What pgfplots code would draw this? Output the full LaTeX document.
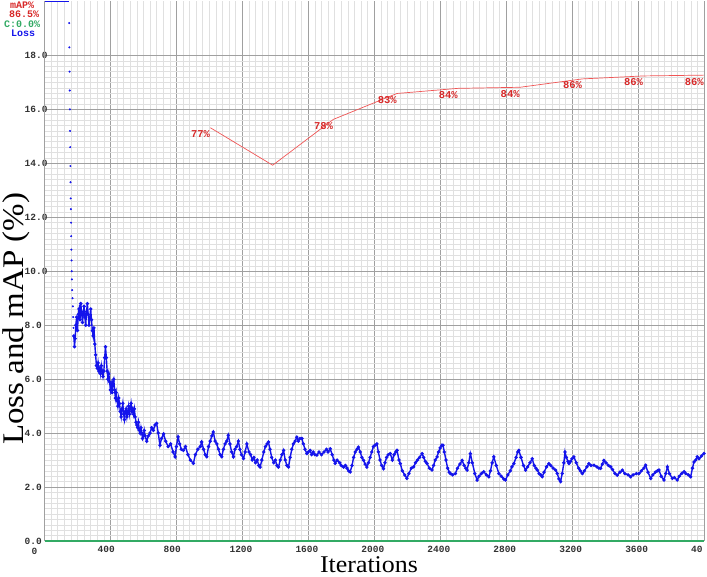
\documentclass[border=0pt]{standalone}
\usepackage{pgfplots}
\pgfplotsset{compat=1.18}
\usepackage{pgfplotstable}
\usepackage{fontspec}
\setmainfont{Liberation Serif}
\newfontfamily\monof{Liberation Mono}
\definecolor{lossblue}{RGB}{20,20,235}
\definecolor{mapred}{RGB}{240,85,85}
\definecolor{labred}{RGB}{215,40,40}
\definecolor{cgreen}{RGB}{50,170,100}
\definecolor{majgrid}{RGB}{160,160,160}
\definecolor{mingrid}{RGB}{224,224,224}
\definecolor{ticktext}{RGB}{50,50,50}

\pgfplotstableread{
x y
150 19.2
151 18.3
152 17.4
153 16.7
154 16.0
155 15.2
156 14.6
157 13.9
158 13.3
159 12.7
160 12.3
161 11.8
162 11.3
163 10.8
164 10.4
165 10.0
166 9.7
168 9.3
170 9.0
172 8.7
174 8.3
176 7.9
}\steeptable

\pgfplotstableread{
x y
178 7.6
182 7.2
186 7.5
190 8.0
195 8.3
200 7.8
205 8.4
210 8.6
215 8.2
220 8.8
225 8.5
230 8.1
235 8.4
240 8.7
245 8.3
250 8.0
255 8.5
260 8.8
265 8.4
270 8.0
275 8.3
280 8.6
285 8.2
290 7.8
295 7.6
300 7.9
305 7.3
310 6.9
315 6.5
320 6.4
325 6.6
330 6.3
335 6.4
340 6.2
345 6.5
350 6.3
355 6.1
360 6.3
365 6.8
370 7.2
375 6.8
380 6.3
385 6.0
390 6.2
395 5.9
400 5.6
405 5.8
410 5.5
415 5.9
420 6.0
425 5.6
430 5.3
435 5.5
440 5.2
445 5.0
450 5.3
455 5.1
460 4.8
465 4.6
470 4.9
475 5.1
480 4.7
485 4.5
490 4.8
495 4.9
500 4.6
505 4.8
510 5.0
515 4.7
520 4.9
525 5.1
530 4.8
535 4.9
540 4.7
545 4.9
550 4.6
555 4.4
560 4.3
565 4.2
570 4.4
575 4.1
580 4.0
585 4.2
590 4.0
595 3.8
600 3.9
605 4.1
610 3.9
620 3.7
630 3.9
640 4.0
650 4.2
660 4.1
670 4.3
680 4.36
690 4.0
700 3.55
710 3.8
722 3.97
735 3.7
750 3.5
765 3.6
780 3.3
792 3.12
800 3.5
810 3.86
820 3.6
830 3.4
842 3.36
855 3.5
870 3.2
885 3.0
903 2.88
915 3.2
930 3.4
945 3.5
953 3.67
965 3.4
975 3.2
984 3.12
995 3.5
1005 3.7
1015 3.9
1024 4.04
1035 3.7
1045 3.6
1055 3.4
1065 3.2
1075 3.12
1085 3.4
1095 3.6
1105 3.7
1115 3.92
1125 3.6
1135 3.3
1146 3.12
1155 3.4
1165 3.5
1176 3.7
1185 3.4
1195 3.2
1207 3.06
1217 3.3
1227 3.6
1240 3.3
1250 3.2
1260 3.0
1270 3.1
1280 2.9
1290 3.0
1300 2.8
1308 2.74
1318 3.0
1330 3.3
1340 3.5
1350 3.6
1358 3.67
1368 3.4
1378 3.1
1390 2.9
1400 3.0
1410 2.8
1419 2.74
1430 3.0
1440 3.2
1450 3.36
1460 3.0
1470 2.8
1480 2.74
1490 3.1
1500 3.4
1510 3.6
1520 3.7
1530 3.85
1540 3.7
1550 3.8
1561 3.8
1570 3.6
1580 3.4
1591 3.24
1600 3.3
1611 3.36
1620 3.2
1630 3.3
1640 3.2
1652 3.18
1665 3.3
1680 3.2
1695 3.3
1710 3.4
1720 3.3
1733 3.42
1745 3.2
1755 3.0
1763 2.88
1775 3.0
1790 2.9
1800 2.8
1814 2.74
1825 2.8
1835 2.7
1845 2.6
1854 2.56
1865 2.8
1875 3.1
1885 3.3
1895 3.4
1904 3.48
1915 3.3
1925 3.1
1935 2.99
1945 2.85
1955 2.74
1965 2.9
1975 3.1
1985 3.3
1995 3.5
2005 3.55
2016 3.6
2025 3.3
2035 3.0
2045 2.8
2056 2.68
2065 2.9
2075 3.1
2085 3.2
2097 3.24
2110 3.0
2120 3.2
2130 3.3
2138 3.36
2150 3.0
2158 2.87
2170 2.6
2185 2.45
2198 2.32
2210 2.5
2225 2.7
2239 2.75
2250 2.9
2262 3.0
2275 3.1
2290 3.24
2300 3.1
2310 2.95
2320 2.87
2335 2.7
2350 2.63
2360 2.8
2370 3.0
2381 3.12
2390 3.3
2400 3.45
2410 3.55
2417 3.55
2425 3.3
2435 3.0
2445 2.7
2455 2.55
2462 2.5
2475 2.45
2492 2.5
2505 2.7
2520 2.85
2533 2.99
2545 2.8
2555 2.7
2563 2.63
2573 2.9
2583 3.24
2595 2.9
2610 2.5
2624 2.26
2635 2.4
2650 2.5
2664 2.57
2680 2.45
2695 2.38
2705 2.6
2715 2.9
2725 3.12
2740 2.8
2756 2.5
2770 2.4
2785 2.3
2796 2.26
2810 2.45
2825 2.6
2835 2.75
2847 2.87
2860 3.1
2870 3.3
2877 3.36
2890 3.1
2905 2.8
2918 2.63
2930 2.75
2945 2.9
2958 3.05
2970 2.8
2980 2.7
2989 2.63
3000 2.5
3010 2.45
3019 2.38
3030 2.55
3045 2.75
3059 2.87
3070 2.8
3085 2.7
3100 2.63
3110 2.5
3120 2.3
3130 2.2
3140 2.5
3150 2.9
3157 3.3
3165 3.1
3175 2.95
3181 2.87
3190 2.95
3200 3.05
3211 3.12
3225 2.9
3240 2.7
3250 2.6
3262 2.5
3275 2.6
3290 2.75
3302 2.87
3315 2.8
3333 2.81
3350 2.75
3362 2.7
3373 2.69
3383 2.85
3393 2.99
3405 2.9
3420 2.8
3434 2.75
3445 2.65
3460 2.5
3474 2.44
3490 2.55
3505 2.63
3520 2.5
3540 2.45
3555 2.38
3570 2.45
3590 2.5
3606 2.5
3620 2.6
3635 2.7
3646 2.81
3660 2.55
3677 2.32
3690 2.45
3705 2.55
3718 2.6
3727 2.63
3740 2.4
3757 2.26
3768 2.5
3778 2.75
3790 2.5
3808 2.32
3820 2.35
3838 2.26
3850 2.4
3865 2.5
3879 2.57
3890 2.5
3905 2.45
3919 2.38
3930 2.7
3939 2.93
3950 3.0
3959 3.12
3970 3.05
3985 3.15
4000 3.24
}\losstable

\pgfplotstableread{
x y lab
1006 15.32 77\%
1384 13.93 {}
1752 15.63 78\%
2138 16.59 83\%
2508 16.78 84\%
2884 16.82 84\%
3262 17.13 86\%
3632 17.24 86\%
4000 17.27 86\%
}\maptable

\begin{document}
\begin{tikzpicture}
\begin{axis}[
  at={(44.5pt,36pt)}, anchor=south west,
  scale only axis, width=659.5pt, height=539.5pt,
  xmin=0, xmax=4000, ymin=0, ymax=20,
  clip=false,
  axis line style={draw=none},
  tick style={draw=none},
  xtick={0,400,...,4000},
  xticklabels={{},400,800,1200,1600,2000,2400,2800,3200,3600,40},
  extra x ticks={0},
  extra x tick labels={0},
  extra x tick style={xticklabel style={yshift=-2pt}},
  ytick={0,2,...,18},
  yticklabels={0.0,2.0,4.0,6.0,8.0,10.0,12.0,14.0,16.0,18.0},
  minor x tick num=9,
  minor y tick num=9,
  grid=both,
  major grid style={draw=majgrid, line width=0.8pt},
  minor grid style={draw=mingrid, line width=0.6pt},
  xticklabel style={font=\monof\bfseries\fontsize{9.5}{10}\selectfont, text=ticktext, anchor=north west, inner sep=0pt, xshift=-13pt, yshift=-4.5pt},
  yticklabel style={font=\monof\bfseries\fontsize{9.5}{10}\selectfont, text=ticktext, anchor=west, inner sep=0pt, xshift=-20pt},
  xlabel={Iterations},
  ylabel={Loss and mAP (\%)},
  every axis x label/.style={at={(axis description cs:0.492,0)}, anchor=base, yshift=-31.5pt, xscale=1.08, font=\fontsize{24}{28}\selectfont},
  every axis y label/.style={at={(axis description cs:-0.0326,0.412)}, anchor=base, rotate=90, xscale=1.1, font=\fontsize{30}{34}\selectfont},
]
% C line (0.0%)
\addplot[cgreen, line width=1.6pt] coordinates {(0,0) (4000,0)};
% loss clipped at the top
\addplot[lossblue, line width=1.8pt] coordinates {(0,20) (149,20)};
% steep start of loss
\addplot[only marks, lossblue, mark=*, mark size=0.8pt] table[x=x,y=y] {\steeptable};
% loss
\addplot[lossblue, line width=1.4pt, mark=*, mark size=0.9pt, mark options={lossblue}] table[x=x,y=y] {\losstable};
% mAP
\addplot[mapred, line width=0.7pt,
  nodes near coords, point meta=explicit symbolic,
  nodes near coords style={anchor=east, inner sep=0pt, yshift=-6.5pt, text=labred, font=\monof\bfseries\fontsize{10.5}{11}\selectfont}]
  table[x=x,y=y,meta=lab] {\maptable};
\end{axis}
\begin{scope}[every node/.style={anchor=west, inner sep=0pt, font=\monof\bfseries\fontsize{10}{11}\selectfont}]
\node[text=labred] at (10pt,571.5pt) {mAP\%};
\node[text=labred] at (9pt,562.5pt) {86.5\%};
\node[text=cgreen] at (4pt,553pt) {C:0.0\%};
\node[text=lossblue] at (11pt,544pt) {Loss};
\end{scope}
\pgfresetboundingbox
\path[use as bounding box] (0,0) rectangle (707pt,577pt);
\end{tikzpicture}
\end{document}
